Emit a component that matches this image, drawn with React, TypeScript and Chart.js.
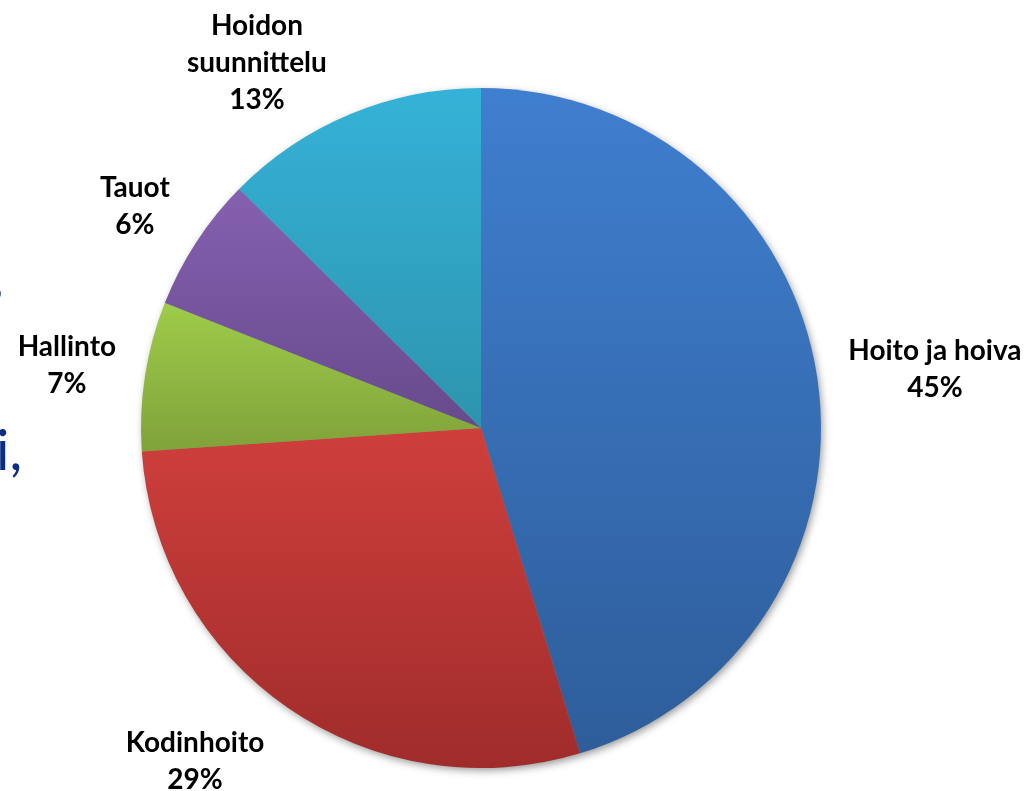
import React, { useEffect, useRef } from "react";
import { Chart, registerables } from "chart.js";

Chart.register(...registerables);

const categories = ["Hoito ja hoiva", "Kodinhoito", "Hallinto", "Tauot", "Hoidon suunnittelu"];
const categoryLines = [["Hoito ja hoiva"], ["Kodinhoito"], ["Hallinto"], ["Tauot"], ["Hoidon", "suunnittelu"]];
const shares = [45.3, 28.6, 7.1, 6.4, 12.6];
const topColors = ["#3F7FCF", "#CF3F3C", "#9ECC4A", "#8560B0", "#35B2D8"];
const bottomColors = ["#2E5D9A", "#9F2C2B", "#80A23A", "#674A8C", "#2D94AE"];

// label block centers, in units of the pie radius relative to the pie centre
const labelAnchors = [
  [1.335, -0.171],
  [-0.841, 0.981],
  [-1.218, -0.184],
  [-1.018, -0.653],
  [-0.659, -1.074],
];

const FONT = "bold 28px Lato, 'Open Sans', sans-serif";
const LINE_H = 37;

function geometry(chart: any) {
  const a = chart.chartArea;
  const cx = (a.left + a.right) / 2;
  const cy = (a.top + a.bottom) / 2;
  const r = Math.min(a.right - a.left, a.bottom - a.top) / 2;
  return { cx, cy, r };
}

function sliceYRange(i: number, cy: number, r: number) {
  const total = shares.reduce((s, v) => s + v, 0);
  let acc = 0;
  for (let k = 0; k < i; k++) acc += shares[k];
  const a0 = -Math.PI / 2 + (acc / total) * 2 * Math.PI;
  const a1 = a0 + (shares[i] / total) * 2 * Math.PI;
  const ys = [cy, cy + r * Math.sin(a0), cy + r * Math.sin(a1)];
  for (const t of [-Math.PI / 2, Math.PI / 2, (3 * Math.PI) / 2]) {
    if (t >= a0 && t <= a1) ys.push(cy + r * Math.sin(t));
  }
  return [Math.min(...ys), Math.max(...ys)];
}

const shadowPlugin = {
  id: "pieShadow",
  beforeDatasetsDraw(chart: any) {
    const { cx, cy, r } = geometry(chart);
    const ctx = chart.ctx;
    ctx.save();
    ctx.shadowColor = "rgba(0,0,0,0.45)";
    ctx.shadowBlur = 9;
    ctx.shadowOffsetX = 2;
    ctx.shadowOffsetY = 3;
    ctx.fillStyle = "#888";
    ctx.beginPath();
    ctx.arc(cx, cy, r - 1, 0, Math.PI * 2);
    ctx.fill();
    ctx.restore();
  },
};

const labelPlugin = {
  id: "outsideLabels",
  afterDatasetsDraw(chart: any) {
    const { cx, cy, r } = geometry(chart);
    const ctx = chart.ctx;
    ctx.save();
    ctx.font = FONT;
    ctx.fillStyle = "#000";
    ctx.textAlign = "center";
    ctx.textBaseline = "middle";
    categories.forEach((_, i) => {
      const lines = [...categoryLines[i], Math.round(shares[i]) + "%"];
      const x = cx + labelAnchors[i][0] * r;
      const y0 = cy + labelAnchors[i][1] * r - ((lines.length - 1) * LINE_H) / 2;
      lines.forEach((t, j) => ctx.fillText(t, x, y0 + j * LINE_H));
    });
    ctx.restore();
  },
};

export default function App() {
  const ref = useRef<HTMLCanvasElement | null>(null);
  useEffect(() => {
    if (!ref.current) return;
    const chart = new Chart(ref.current, {
      type: "pie",
      data: {
        labels: categories,
        datasets: [
          {
            data: shares,
            borderWidth: 0,
            backgroundColor: (c: any) => {
              const ch = c.chart;
              const i = c.dataIndex;
              if (!ch.chartArea || i === undefined) return topColors[i ?? 0];
              const { cy, r } = geometry(ch);
              const [y0, y1] = sliceYRange(i, cy, r);
              const g = ch.ctx.createLinearGradient(0, y0, 0, y1);
              g.addColorStop(0, topColors[i]);
              g.addColorStop(1, bottomColors[i]);
              return g;
            },
          },
        ],
      },
      options: {
        animation: false,
        responsive: false,
        layout: { padding: { top: 88, bottom: 23, left: 141, right: 206 } },
        plugins: { legend: { display: false }, tooltip: { enabled: false } },
      },
      plugins: [shadowPlugin, labelPlugin],
    });
    return () => chart.destroy();
  }, []);

  const frag: React.CSSProperties = {
    position: "absolute",
    fontFamily: "Lato, sans-serif",
    fontSize: 56,
    color: "#0B2E83",
    lineHeight: 1,
    margin: 0,
  };

  return (
    <div
      style={{
        position: "fixed",
        left: 0,
        top: 0,
        width: 1027,
        height: 791,
        overflow: "hidden",
        background: "#fff",
      }}
    >
      <canvas ref={ref} width={1027} height={791} style={{ position: "absolute", left: 0, top: 0 }} />
      <span style={{ ...frag, left: -9, top: 247 }}>,</span>
      <span style={{ ...frag, left: -4, top: 421 }}>i,</span>
    </div>
  );
}
